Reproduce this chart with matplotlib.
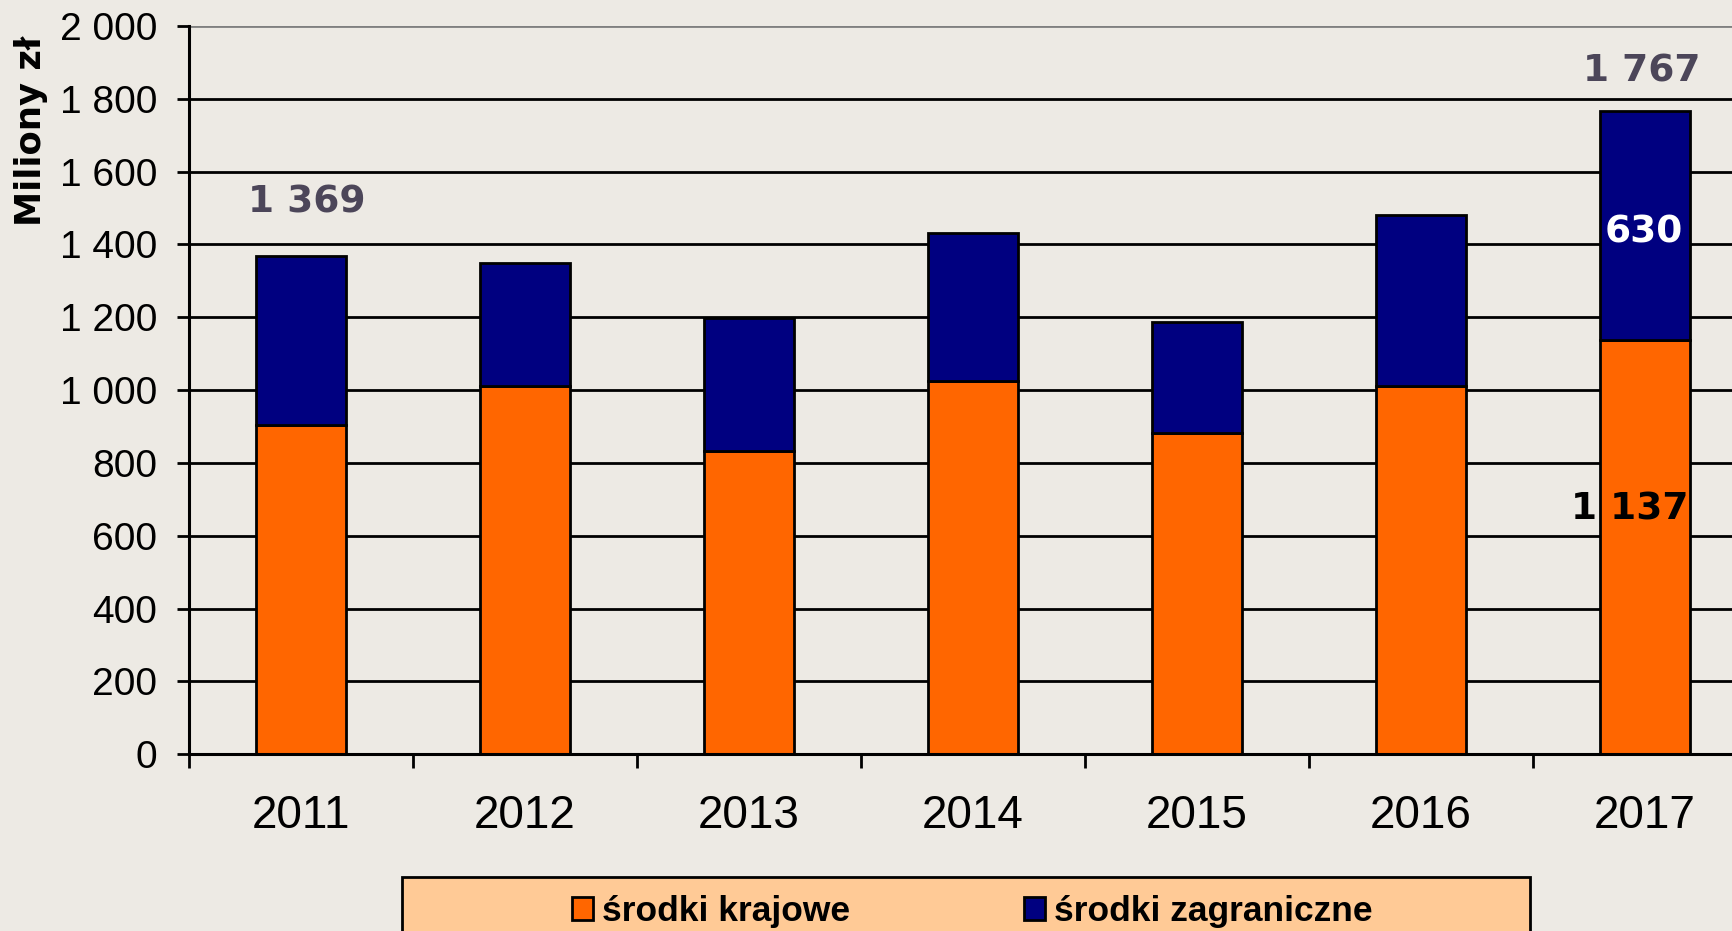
import matplotlib
matplotlib.use('Agg')
import matplotlib.pyplot as plt
from matplotlib.patches import Rectangle
import numpy as np

# dane (miliony zl)
lata = ['2011', '2012', '2013', '2014', '2015', '2016', '2017']
krajowe = [905, 1012, 833, 1024, 882, 1012, 1137]
zagraniczne = [464, 338, 364, 408, 306, 468, 630]
y_ticks = [0, 200, 400, 600, 800, 1000, 1200, 1400, 1600, 1800, 2000]

sumy = [k + z for k, z in zip(krajowe, zagraniczne)]


def pl(v):
    # separator tysiecy: spacja
    return f'{v:,}'.replace(',', ' ')


tlo = '#edeae4'
fig = plt.figure(figsize=(17.33, 9.31), dpi=100, facecolor=tlo)
ax = fig.add_axes([0.1091, 0.19, 0.9047, 0.782])
ax.set_facecolor(tlo)

x = np.arange(len(lata))
b1 = ax.bar(x, krajowe, 0.4, color='#ff6600', edgecolor='black', linewidth=2,
            zorder=3, label='środki krajowe')
b2 = ax.bar(x, zagraniczne, 0.4, bottom=krajowe, color='#000080',
            edgecolor='black', linewidth=2, zorder=3, label='środki zagraniczne')

ax.set_xlim(-0.5, len(lata) - 0.5)
ax.set_ylim(0, 2000)

# linie siatki
for v in y_ticks[1:]:
    ax.axhline(v, color='black' if v < 2000 else '#808080', lw=2, zorder=1)

for s in ['top', 'right']:
    ax.spines[s].set_visible(False)
for s in ['left', 'bottom']:
    ax.spines[s].set_linewidth(2.2)
    ax.spines[s].set_zorder(4)

ax.set_yticks(y_ticks, [pl(v) for v in y_ticks], fontsize=28,
              family=['Liberation Sans', 'DejaVu Sans'])
ax.tick_params(axis='y', length=9, width=2, pad=14)

# kreski miedzy kategoriami, etykiety w srodku
ax.set_xticks(np.arange(-0.5, len(lata), 1))
ax.set_xticklabels([])
ax.set_xticks(x, lata, minor=True, fontsize=33,
              family=['Liberation Sans Narrow', 'Liberation Sans'])
ax.tick_params(axis='x', which='major', length=10, width=2)
ax.tick_params(axis='x', which='minor', length=0, pad=29)

fig.text(31 / 1733, 1 - 131 / 931, 'Miliony zł', rotation=90, ha='center',
         va='center', fontsize=25.5, fontweight='bold', family='DejaVu Sans')

# podpisy
ax.annotate(pl(sumy[0]), (0, sumy[0]), xytext=(4, 38), textcoords='offset points',
            ha='center', va='center', fontsize=27, fontweight='bold', color='#4c4659')
ax.annotate(pl(sumy[6]), (6, sumy[6]), xytext=(-2, 28), textcoords='offset points',
            ha='center', va='center', fontsize=27, fontweight='bold', color='#4c4659')
ax.annotate(pl(zagraniczne[6]), (6, krajowe[6] + zagraniczne[6] / 2), xytext=(-1, -5),
            textcoords='offset points', ha='center', va='center', fontsize=27,
            fontweight='bold', color='white', zorder=5)
ax.annotate(pl(krajowe[6]), (6, krajowe[6] / 2), xytext=(-11, 27),
            textcoords='offset points', ha='center', va='center', fontsize=27,
            fontweight='bold', color='black', zorder=5)

# legenda
fig.add_artist(Rectangle((402 / 1733, -0.05), 1128 / 1733, 0.05 + 54 / 931,
                         transform=fig.transFigure, facecolor='#ffca96',
                         edgecolor='black', linewidth=2, zorder=1))
leg = fig.legend(handles=[b1, b2], loc='center', bbox_to_anchor=(0.561, 0.021),
                 ncol=2, frameon=False, handlelength=0.6, handleheight=0.6,
                 handletextpad=0.26, columnspacing=4.9,
                 prop={'family': ['Liberation Sans', 'DejaVu Sans'],
                       'weight': 'bold', 'size': 25.5})
leg.set_zorder(2)

fig.savefig('out.png', dpi=100, facecolor=tlo)
